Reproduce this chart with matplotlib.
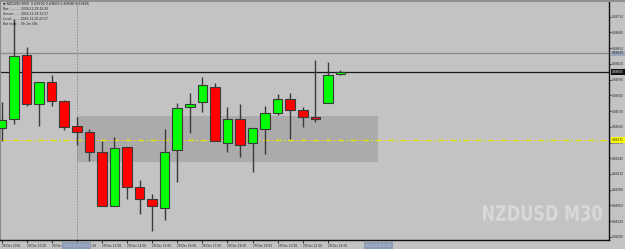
import matplotlib.pyplot as plt
from matplotlib.patches import Rectangle, PathPatch
from matplotlib.textpath import TextPath
from matplotlib.font_manager import FontProperties
import matplotlib.transforms as mtransforms
import numpy as np

# NZDUSD M30 candles, 29 Dec 2016 09:00 .. 22:30
opens = [0.69498, 0.69514, 0.69637, 0.69544, 0.69586, 0.69550, 0.69502, 0.69491,
         0.69451, 0.69349, 0.69461, 0.69386, 0.69363, 0.69346, 0.69456, 0.69538,
         0.69548, 0.69576, 0.69470, 0.69514, 0.69469, 0.69495, 0.69526, 0.69553,
         0.69532, 0.69518, 0.69545, 0.69600]
highs = [0.69548, 0.69705, 0.69652, 0.69586, 0.69599, 0.69551, 0.69518, 0.69495,
         0.69472, 0.69480, 0.69461, 0.69398, 0.69372, 0.69496, 0.69545, 0.69565,
         0.69595, 0.69583, 0.69537, 0.69544, 0.69497, 0.69540, 0.69563, 0.69565,
         0.69538, 0.69628, 0.69624, 0.69609]
lows = [0.69472, 0.69505, 0.69540, 0.69502, 0.69540, 0.69493, 0.69465, 0.69435,
        0.69349, 0.69349, 0.69363, 0.69333, 0.69301, 0.69322, 0.69394, 0.69488,
        0.69528, 0.69472, 0.69452, 0.69443, 0.69414, 0.69449, 0.69522, 0.69476,
        0.69500, 0.69510, 0.69545, 0.69598]
closes = [0.69512, 0.69636, 0.69544, 0.69586, 0.69550, 0.69500, 0.69490, 0.69452,
          0.69349, 0.69460, 0.69386, 0.69362, 0.69349, 0.69451, 0.69535, 0.69544,
          0.69579, 0.69472, 0.69514, 0.69466, 0.69497, 0.69526, 0.69553, 0.69532,
          0.69518, 0.69514, 0.69598, 0.69605]

time_labels = ['29 Dec 2016', '29 Dec 10:00', '29 Dec 11:00', '29 Dec 12:00',
               '29 Dec 13:00', '29 Dec 14:00', '29 Dec 15:00', '29 Dec 16:00',
               '29 Dec 17:00', '29 Dec 18:00', '29 Dec 19:00', '29 Dec 20:00',
               '29 Dec 21:00', '29 Dec 22:00']
price_ticks = [0.69290, 0.69320, 0.69350, 0.69380, 0.69410, 0.69440, 0.69470, 0.69500,
               0.69530, 0.69560, 0.69590, 0.69620, 0.69650, 0.69680, 0.69710, 0.69740]

hline_grey = 0.69640
hline_yellow = 0.69475
zone_low, zone_high = 0.69433, 0.69520
zone_start, zone_end = 6, 30   # bar index
cross_bar = 6
info_lines = ['Bar: .......... 2016.12.29 22:30',
              'Server: ..... 2016.12.29 22:57',
              'Local: ....... 2016.12.29 22:57',
              'Bar ends: .. 0h 2m 58s']

bg = '#c3c3c3'
fig = plt.figure(figsize=(6.25, 2.49), dpi=100, facecolor=bg)
ax = fig.add_axes([0, 9/249, 609/625, 239/249])
ax.set_facecolor(bg)

x = np.arange(len(opens))
o = np.array(opens); c = np.array(closes)
up = c >= o
cols = np.where(up, '#00ff00', '#ff0000')

ax.add_patch(Rectangle((zone_start, zone_low), zone_end - zone_start, zone_high - zone_low,
                       facecolor='#ababab', edgecolor='none', zorder=1))
ax.axhline(hline_grey, color='#8c8c94', lw=1.0, zorder=2)
ax.axhline(closes[-1], color='#1a1a1a', lw=0.9, zorder=2)
ax.axhline(hline_yellow, color='#e8e800', lw=0.9, ls='-.', dashes=(5, 2, 1, 2), zorder=2)
ax.axvline(cross_bar, color='#8a8a8a', lw=0.7, ls=(0, (1.5, 1.5)), zorder=2)

ax.vlines(x, lows, highs, color='#3a3a3a', lw=1.0, zorder=3)
ax.bar(x, np.abs(c - o), bottom=np.minimum(o, c), width=0.76, color=cols,
       edgecolor='#3a3a3a', linewidth=0.8, zorder=4)

ax.set_xlim(-0.12, 48.4)
ax.set_ylim(0.69284, 0.69740)

ax.yaxis.tick_right()
ax.set_yticks(price_ticks)
ax.set_yticklabels(['%.5f' % p for p in price_ticks])
ax.tick_params(axis='y', length=1.5, width=0.6, pad=0.6, labelsize=2.1, colors='#202020')
ax.set_xticks(x[::2])
ax.set_xticklabels(time_labels, ha='left')
ax.tick_params(axis='x', length=2, width=0.6, pad=1.2, labelsize=2.1, colors='#202020')
ax.spines['top'].set_visible(False)
ax.spines['left'].set_color('#8a8a8a')
ax.spines['right'].set_color('#111111')
ax.spines['bottom'].set_color('#111111')
ax.spines['right'].set_linewidth(1.0)
ax.spines['bottom'].set_linewidth(1.0)

# price boxes on the right axis
tr = mtransforms.blended_transform_factory(ax.transAxes, ax.transData)
for val, fc, tc in [(hline_grey, '#9aa6b8', '#303040'), (closes[-1], '#101010', 'white'),
                    (hline_yellow, '#ffff00', '#202020')]:
    ax.text(1.005, val, '%.5f' % val, transform=tr, fontsize=2.1, color=tc, va='center',
            ha='left', clip_on=False, zorder=6,
            bbox=dict(boxstyle='square,pad=0.3', fc=fc, ec='none'))

# time boxes on the x axis
trx = mtransforms.blended_transform_factory(ax.transData, ax.transAxes)
for idx, lab in [(cross_bar, '2016.12.29 12:00'), (zone_end, '2016.12.30 00:00')]:
    ax.text(idx, -0.016, lab, transform=trx, fontsize=2.1, color='#c8d0dc', va='top',
            ha='center', clip_on=False, zorder=6,
            bbox=dict(boxstyle='square,pad=0.5', fc='#8c9cb4', ec='none'))

# top border strip
fig.patches.append(Rectangle((0, 247/249), 1, 2/249, transform=fig.transFigure,
                             facecolor='#8f8f8f', edgecolor='none'))

fig.text(3/625, 1 - 4/249, '\u25bc NZDUSD,M30  %.5f %.5f %.5f %.5f' % (opens[-1], highs[-1], lows[-1], closes[-1]),
         fontsize=2.3, color='#1a1a1a', va='center', ha='left')
for k, line in enumerate(info_lines):
    fig.text(3/625, 1 - (9.5 + 4.9 * k)/249, line, fontsize=2.2, color='#1a1a1a',
             va='center', ha='left')

# condensed watermark, squeezed into its box (pixels from bottom-left)
tp = TextPath((0, 0), 'NZDUSD M30', size=20,
              prop=FontProperties(family='DejaVu Sans', weight='bold'))
ext = tp.get_extents()
wm_x0, wm_x1, wm_y0, wm_y1 = 483, 602, 28, 44
sx = (wm_x1 - wm_x0) / ext.width
sy = (wm_y1 - wm_y0) / ext.height
wm_tr = mtransforms.Affine2D().translate(-ext.x0, -ext.y0).scale(sx, sy).translate(wm_x0, wm_y0)
fig.patches.append(PathPatch(tp, transform=wm_tr, facecolor='#d8d8d8', edgecolor='none'))

fig.savefig('out.png', dpi=100, facecolor=bg)
